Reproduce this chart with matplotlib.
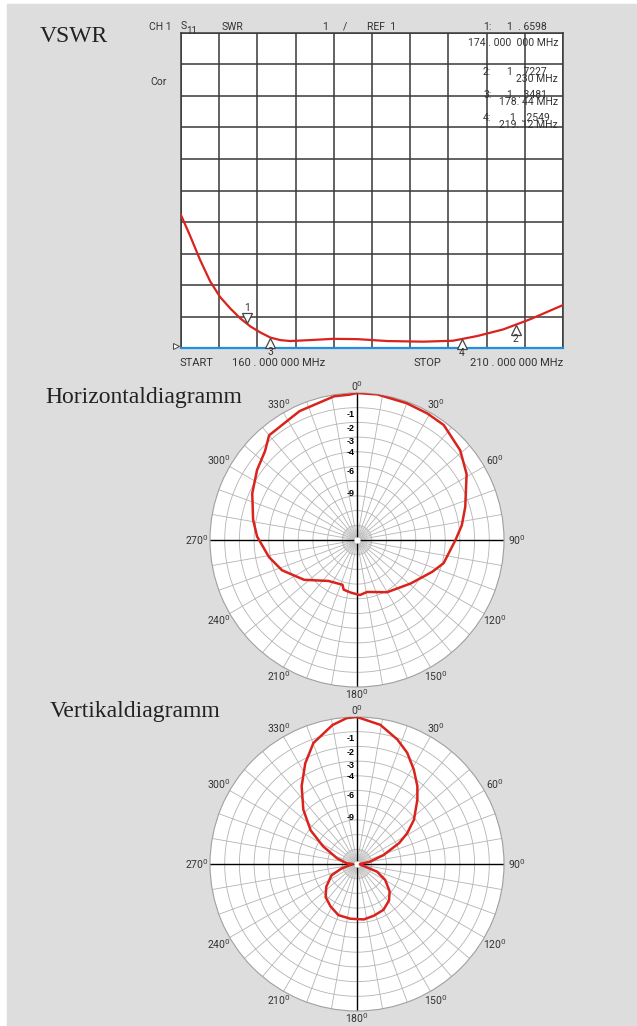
import numpy as np
import matplotlib
matplotlib.use("Agg")
import matplotlib.pyplot as plt
from matplotlib.patches import Rectangle
from matplotlib.transforms import offset_copy

# VSWR sweep (MHz, SWR)
freq = [160.0, 161.2, 162.5, 163.8, 165.1, 166.5, 167.8, 169.1, 170.4, 171.7,
        173.0, 174.3, 176.9, 179.9, 183.1, 187.0, 191.7, 195.6, 198.8, 202.2,
        205.7, 210.0]
swr = [5.22, 4.56, 3.80, 3.13, 2.63, 2.25, 1.94, 1.69, 1.50, 1.34,
       1.26, 1.23, 1.26, 1.30, 1.29, 1.23, 1.21, 1.24, 1.39, 1.60,
       1.92, 2.37]
marker_freq = [168.7, 203.8, 171.7, 196.8]
marker_names = ["1", "2", "3", "4"]

# horizontal pattern (deg clockwise from north, relative field)
h_ang = [0, 8, 20, 29, 37, 49, 59, 73, 82, 90, 105, 113, 129, 150, 169, 177,
         187, 195, 198, 215, 233, 248, 259, 272, 281, 294, 305, 314, 320, 336, 351, 357]
h_amp = [1.0, 1.0, 0.99, 0.985, 0.98, 0.93, 0.87, 0.77, 0.72, 0.67, 0.61, 0.555,
         0.47, 0.41, 0.36, 0.375, 0.36, 0.35, 0.32, 0.34, 0.45, 0.55, 0.61, 0.68,
         0.72, 0.78, 0.83, 0.87, 0.93, 0.96, 0.99, 0.99]

# vertical pattern
v_ang = [0, 9.5, 18, 24.3, 31, 37.8, 43.2, 52.2, 58.5, 63.6, 71.4, 80, 90,
         100, 107, 111, 119.5, 130, 138.7, 150, 162, 173, 187, 200, 212, 223.5,
         233.5, 246, 254, 261, 270, 274, 285.8, 297.5, 306, 315.4, 324.6, 332.8,
         340.2, 350, 356]
v_amp = [1.0, 0.96, 0.89, 0.83, 0.75, 0.67, 0.60, 0.49, 0.40, 0.32, 0.19, 0.09, 0.02,
         0.02, 0.05, 0.146, 0.22, 0.29, 0.33, 0.36, 0.37, 0.38, 0.375, 0.37, 0.34, 0.31,
         0.26, 0.19, 0.11, 0.046, 0.03, 0.07, 0.14, 0.26, 0.39, 0.52, 0.65, 0.77,
         0.875, 0.96, 0.995]

ring_db = [-1, -2, -3, -4, -6, -9]
angle_ticks = list(range(0, 360, 30))

W, H = 637, 1026
fig = plt.figure(figsize=(W / 100, H / 100), dpi=100)
fig.patch.set_facecolor("white")
fig.patches.append(Rectangle((7 / W, 0), 1, 1 - 4 / H, transform=fig.transFigure,
                             color="#dddddd", zorder=-10))


def fx(x):
    return x / W


def fy(y):
    return 1 - y / H


sans = ["Roboto", "DejaVu Sans"]
serif = ["Liberation Serif", "DejaVu Serif"]
tc = "#333333"


def ftxt(x, y, s, ha="left", size=7.5):
    fig.text(fx(x), fy(y), s, ha=ha, va="baseline", fontsize=size, color=tc,
             family=sans, zorder=5)


# titles
fig.text(fx(40), fy(42), "VSWR", fontsize=17, family=serif, color="#222222", va="baseline")
fig.text(fx(45), fy(403), "Horizontaldiagramm", fontsize=17, family=serif, color="#222222", va="baseline")
fig.text(fx(50), fy(717), "Vertikaldiagramm", fontsize=17, family=serif, color="#222222", va="baseline")

# ---- VSWR panel
ax = fig.add_axes([fx(181), fy(348.3), fx(563 - 181), (348.3 - 32.7) / H])
ax.set_facecolor("white")
ax.set_xlim(160, 210)
ax.set_ylim(1, 11)
ax.set_xticks(np.arange(160, 211, 5))
ax.set_yticks(np.arange(1, 12, 1))
ax.tick_params(length=0, labelbottom=False, labelleft=False)
ax.grid(True, color="#383838", lw=1.1)
for s in ax.spines.values():
    s.set_color("#383838")
    s.set_linewidth(1.1)
ax.axhline(1, color="#1f8fe0", lw=1.6, zorder=3, clip_on=False)
ax.plot(freq, swr, color="#d9231d", lw=1.6, zorder=4)

for f, name in zip(marker_freq, marker_names):
    s = np.interp(f, freq, swr)
    if name == "1":
        tr = offset_copy(ax.transData, fig=fig, x=0, y=6, units="dots")
        ax.plot(f, s, marker="v", ms=7, mfc="white", mec="#444444", mew=0.9,
                transform=tr, zorder=5, clip_on=False)
        tr2 = offset_copy(ax.transData, fig=fig, x=0, y=16, units="dots")
        ax.text(f, s, name, transform=tr2, ha="center", va="center", fontsize=7.5,
                color=tc, family=sans)
    else:
        tr = offset_copy(ax.transData, fig=fig, x=0, y=-5, units="dots")
        ax.plot(f, s, marker="^", ms=7, mfc="white", mec="#444444", mew=0.9,
                transform=tr, zorder=5, clip_on=False)
        tr2 = offset_copy(ax.transData, fig=fig, x=0, y=-14, units="dots")
        ax.text(f, s, name, transform=tr2, ha="center", va="center", fontsize=7.5,
                color=tc, family=sans, zorder=6, clip_on=False)

trl = offset_copy(ax.transData, fig=fig, x=-5, y=2, units="dots")
ax.plot(160, 1, marker=">", ms=4, mfc="white", mec="#444444", mew=0.7,
        transform=trl, clip_on=False, zorder=5)

ftxt(149, 30, "CH 1")
ftxt(181, 29, "S")
ftxt(186, 34, "11", size=7)
ftxt(222, 30, "SWR")
ftxt(322, 30, "1")
ftxt(343, 30, "/")
ftxt(367, 30, "REF  1")
ftxt(483, 30, "1:")
ftxt(507, 30, "1  . 6598")
ftxt(558, 46, "174 . 000  000 MHz", ha="right")
ftxt(150, 85, "Cor")
ftxt(483, 75, "2:")
ftxt(507, 75, "1  . 7227")
ftxt(558, 82, "230 MHz", ha="right")
ftxt(483, 98, "3:")
ftxt(507, 98, "1  . 3481")
ftxt(558, 105, "178. 44 MHz", ha="right")
ftxt(483, 121, "4:")
ftxt(510, 121, "1  . 2549")
ftxt(558, 128, "219. 12 MHz", ha="right")
ftxt(180, 366, "START", size=8)
ftxt(232, 366, "160 . 000 000 MHz", size=8)
ftxt(413, 366, "STOP", size=8)
ftxt(563, 366, "210 . 000 000 MHz", ha="right", size=8)


# ---- polar panels
def polar_panel(cy, ang, amp):
    R = 147
    cx = 357
    p = fig.add_axes([fx(cx - R), fy(cy + R), 2 * R / W, 2 * R / H], projection="polar")
    p.set_facecolor("white")
    p.set_theta_zero_location("N")
    p.set_theta_direction(-1)
    p.set_ylim(0, 1)
    p.grid(False)
    p.set_xticks([])
    p.set_yticks([])
    p.spines["polar"].set_color("#a0a0a0")
    p.spines["polar"].set_linewidth(0.8)
    t = np.linspace(0, 2 * np.pi, 361)
    for r in np.arange(0.1, 1.0, 0.1):
        p.plot(t, np.full_like(t, r), color="#b4b4b4", lw=0.6, zorder=1)
    for a in range(0, 360, 10):
        p.plot([np.radians(a)] * 2, [0, 1], color="#b4b4b4", lw=0.6, zorder=1)
    for a in range(5, 360, 10):
        p.plot([np.radians(a)] * 2, [0, 0.1], color="#c4c4c4", lw=0.4, zorder=1)
    for a in range(0, 360, 90):
        p.plot([np.radians(a)] * 2, [0, 1], color="black", lw=1.0, zorder=2)
    p.plot(0, 0, "o", ms=3.5, color="white", zorder=3)
    th = np.radians(list(ang) + [ang[0]])
    rr = list(amp) + [amp[0]]
    p.plot(th, rr, color="#d9231d", lw=1.8, zorder=4)
    for a in angle_ticks:
        rl = 1.045 + 0.045 * abs(np.sin(np.radians(a)))
        p.text(np.radians(a), rl, f"{a}$^{{0}}$", ha="center", va="center",
               fontsize=7.5, color=tc, family=sans, clip_on=False)
    trr = offset_copy(p.transData, fig=fig, x=-2, y=-1, units="dots")
    for db in ring_db:
        p.text(0, 10 ** (db / 20), str(db), transform=trr, ha="right", va="top",
               fontsize=6.5, fontweight="bold", color="black",
               family=["Liberation Sans", "DejaVu Sans"], zorder=5)
    return p


polar_panel(540, h_ang, h_amp)
polar_panel(864, v_ang, v_amp)

fig.savefig("out.png", dpi=100)
